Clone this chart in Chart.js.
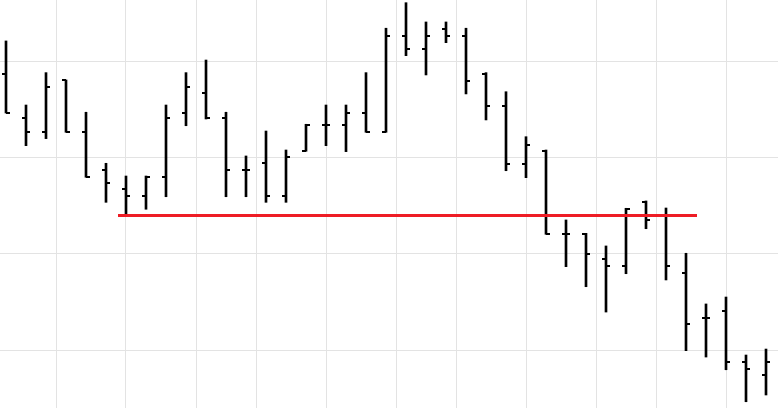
<!DOCTYPE html>
<html>
<head>
<meta charset="utf-8">
<title>OHLC</title>
<script src="https://cdn.jsdelivr.net/npm/chart.js@4/dist/chart.umd.min.js"></script>
<style>
    html, body { margin: 0; padding: 0; background: #fff; }
    #chart { display: block; }
</style>
</head>
<body>
<canvas id="chart" width="778" height="408"></canvas>
<script>
(function () {
    // --- Data (one entry per session) ---
    const opens = [
        98.71, 94.08, 92.66, 98.03, 92.66, 88.75, 86.74, 86.05, 88.02, 94.66,
        96.74, 94.08, 88.75, 89.41, 86.05, 90.72, 93.42, 93.42, 94.66, 92.66,
        102.66, 101.31, 103.38, 102.66, 98.71, 95.36, 89.37, 90.72, 82.07, 82.07,
        79.45, 78.78, 85.43, 84.04, 78.05, 73.35, 74.11, 68.82, 67.43
    ];
    const highs = [
        102.11, 95.46, 98.82, 98.06, 94.71, 89.41, 88.09, 88.09, 95.46, 98.82,
        100.13, 94.71, 90.17, 92.76, 90.79, 93.46, 95.46, 95.46, 98.82, 103.43,
        106.08, 104.08, 104.08, 103.43, 98.82, 96.84, 92.17, 90.79, 83.53, 82.14,
        80.83, 84.74, 85.50, 84.77, 80.07, 74.81, 75.53, 69.51, 70.13
    ];
    const lows = [
        94.63, 91.24, 91.97, 92.63, 87.96, 85.36, 84.15, 84.64, 85.94, 93.31,
        94.01, 85.94, 85.94, 85.36, 85.36, 90.66, 91.24, 90.62, 92.63, 92.63,
        100.58, 98.58, 101.93, 96.61, 93.91, 88.64, 87.92, 82.04, 78.68, 76.60,
        73.97, 77.95, 82.62, 77.30, 69.96, 69.30, 67.98, 64.66, 65.36
    ];
    const closes = [
        94.66, 92.66, 97.36, 92.66, 88.02, 87.40, 86.05, 88.02, 94.08, 97.36,
        94.08, 88.75, 88.75, 86.05, 90.10, 93.42, 93.42, 94.66, 92.66, 102.66,
        101.31, 102.66, 102.66, 97.99, 95.36, 89.37, 91.34, 82.07, 82.07, 80.03,
        78.78, 84.67, 83.49, 78.78, 72.76, 73.35, 68.82, 68.09, 68.82
    ];

    // grid positions (session index / price)
    const xGridTicks = [2.5, 6, 9.5, 12.5, 16, 19.5, 22.5, 26, 29.5, 32.5, 36];
    const yGridTicks = [70, 80, 90, 100];

    // horizontal support line
    const supportLevel = 84.0;
    const supportStart = 5.6;
    const supportEnd = 34.55;

    // --- Tick marks for open (left) and close (right) ---
    function makeTick(side) {
        const c = document.createElement('canvas');
        c.width = 10;
        c.height = 2;
        const g = c.getContext('2d');
        g.fillStyle = '#000';
        g.fillRect(side === 'left' ? 1 : 5, 0, 4, 2);
        return c;
    }

    const idx = opens.map((_, i) => i);

    const ctx = document.getElementById('chart').getContext('2d');

    new Chart(ctx, {
        type: 'bar',
        data: {
            datasets: [
                {
                    type: 'line',
                    data: [
                        { x: supportStart, y: supportLevel },
                        { x: supportEnd, y: supportLevel }
                    ],
                    borderColor: '#ee1c25',
                    borderWidth: 3,
                    pointRadius: 0,
                    order: 0
                },
                {
                    type: 'line',
                    data: idx.map(i => ({ x: i, y: opens[i] })),
                    showLine: false,
                    pointStyle: makeTick('left'),
                    pointRadius: 3,
                    order: 1
                },
                {
                    type: 'line',
                    data: idx.map(i => ({ x: i, y: closes[i] })),
                    showLine: false,
                    pointStyle: makeTick('right'),
                    pointRadius: 3,
                    order: 1
                },
                {
                    type: 'bar',
                    data: idx.map(i => ({ x: i, y: [lows[i], highs[i]] })),
                    backgroundColor: '#000',
                    borderWidth: 0,
                    barThickness: 2,
                    order: 2
                }
            ]
        },
        options: {
            responsive: false,
            animation: false,
            layout: { padding: 0, autoPadding: false },
            plugins: {
                legend: { display: false },
                tooltip: { enabled: false }
            },
            scales: {
                x: {
                    type: 'linear',
                    min: -0.3,
                    max: 38.6,
                    offset: false,
                    afterBuildTicks: axis => { axis.ticks = xGridTicks.map(v => ({ value: v })); },
                    ticks: { display: false },
                    grid: { color: '#e3e3e3', drawTicks: false, offset: false },
                    border: { display: false }
                },
                y: {
                    min: 64.01,
                    max: 106.36,
                    afterBuildTicks: axis => { axis.ticks = yGridTicks.map(v => ({ value: v })); },
                    ticks: { display: false },
                    grid: { color: '#e3e3e3', drawTicks: false },
                    border: { display: false }
                }
            }
        }
    });
})();
</script>
</body>
</html>
